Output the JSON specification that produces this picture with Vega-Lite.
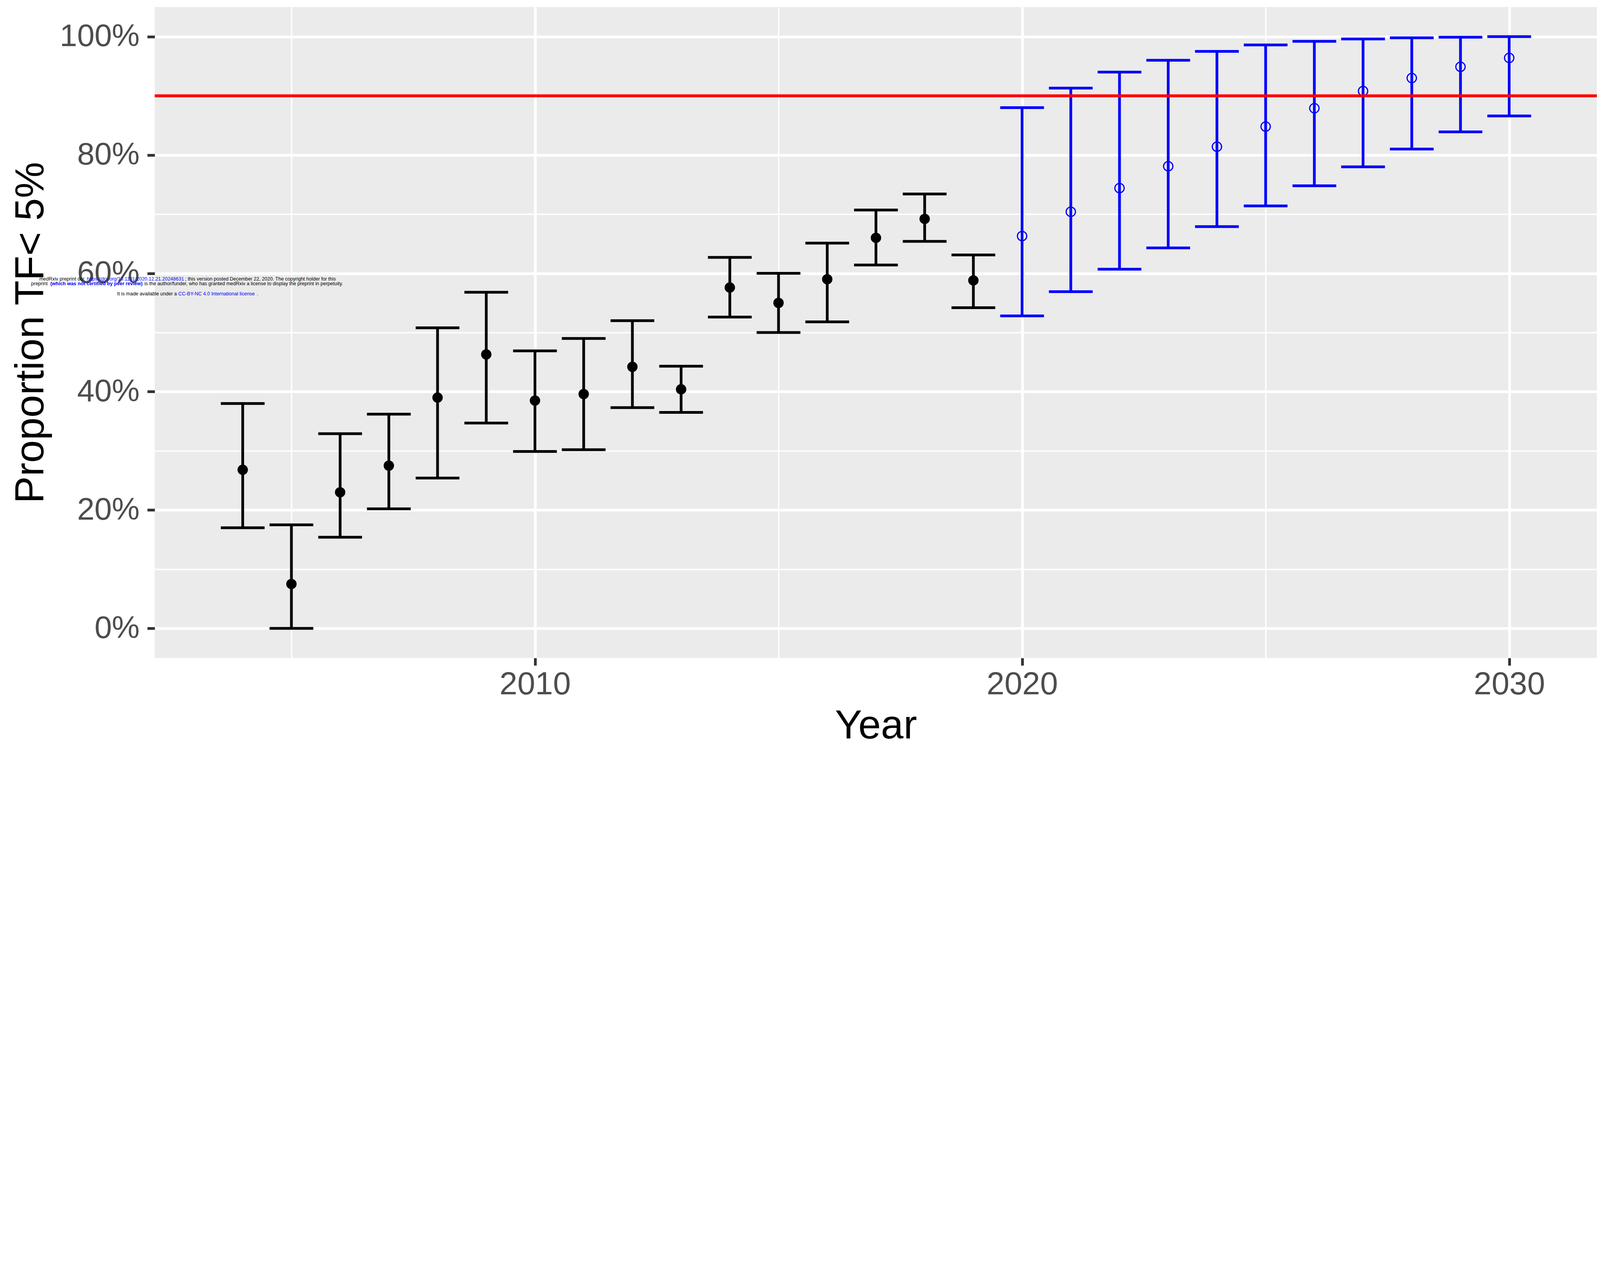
{
  "$schema": "https://vega.github.io/schema/vega-lite/v6.json",
  "width": 3692,
  "height": 1666,
  "autosize": {"type": "none"},
  "padding": {"left": 396, "top": 18, "right": 3, "bottom": 229},
  "background": "#FFFFFF",
  "config": {"view": {"fill": "#EBEBEB", "stroke": null}, "font": "Liberation Sans"},
  "datasets": {
    "est": [
      {"year": 2004, "series": "observed", "est": 26.8, "lower": 17.0, "upper": 38.0},
      {"year": 2005, "series": "observed", "est": 7.5, "lower": 0.0, "upper": 17.5},
      {"year": 2006, "series": "observed", "est": 23.0, "lower": 15.4, "upper": 32.9},
      {"year": 2007, "series": "observed", "est": 27.5, "lower": 20.2, "upper": 36.2},
      {"year": 2008, "series": "observed", "est": 39.0, "lower": 25.4, "upper": 50.8},
      {"year": 2009, "series": "observed", "est": 46.3, "lower": 34.7, "upper": 56.8},
      {"year": 2010, "series": "observed", "est": 38.5, "lower": 29.9, "upper": 46.9},
      {"year": 2011, "series": "observed", "est": 39.6, "lower": 30.2, "upper": 49.0},
      {"year": 2012, "series": "observed", "est": 44.2, "lower": 37.3, "upper": 52.0},
      {"year": 2013, "series": "observed", "est": 40.4, "lower": 36.5, "upper": 44.3},
      {"year": 2014, "series": "observed", "est": 57.6, "lower": 52.6, "upper": 62.7},
      {"year": 2015, "series": "observed", "est": 55.0, "lower": 50.0, "upper": 60.0},
      {"year": 2016, "series": "observed", "est": 59.0, "lower": 51.8, "upper": 65.1},
      {"year": 2017, "series": "observed", "est": 66.0, "lower": 61.4, "upper": 70.7},
      {"year": 2018, "series": "observed", "est": 69.2, "lower": 65.4, "upper": 73.4},
      {"year": 2019, "series": "observed", "est": 58.8, "lower": 54.2, "upper": 63.1},
      {"year": 2020, "series": "projected", "est": 66.3, "lower": 52.8, "upper": 88.0},
      {"year": 2021, "series": "projected", "est": 70.4, "lower": 56.9, "upper": 91.3},
      {"year": 2022, "series": "projected", "est": 74.4, "lower": 60.7, "upper": 94.0},
      {"year": 2023, "series": "projected", "est": 78.1, "lower": 64.3, "upper": 96.0},
      {"year": 2024, "series": "projected", "est": 81.4, "lower": 67.9, "upper": 97.5},
      {"year": 2025, "series": "projected", "est": 84.8, "lower": 71.4, "upper": 98.6},
      {"year": 2026, "series": "projected", "est": 87.9, "lower": 74.8, "upper": 99.2},
      {"year": 2027, "series": "projected", "est": 90.8, "lower": 78.0, "upper": 99.6},
      {"year": 2028, "series": "projected", "est": 93.0, "lower": 81.0, "upper": 99.8},
      {"year": 2029, "series": "projected", "est": 94.9, "lower": 83.9, "upper": 99.9},
      {"year": 2030, "series": "projected", "est": 96.4, "lower": 86.6, "upper": 100.0}
    ],
    "target": [{"level": 90}],
    "notice": [
      {"x": 1999.823, "y": 58.81, "kind": "text", "text": "medRxiv preprint doi:"},
      {"x": 2000.800, "y": 58.81, "kind": "link", "text": "https://doi.org/10.1101/2020.12.21.20248631"},
      {"x": 2002.816, "y": 58.81, "kind": "text", "text": "; this version posted December 22, 2020. The copyright holder for this"},
      {"x": 1999.655, "y": 57.99, "kind": "text", "text": "preprint"},
      {"x": 2000.049, "y": 57.99, "kind": "note", "text": "(which was not certified by peer review)"},
      {"x": 2001.981, "y": 57.99, "kind": "text", "text": "is the author/funder, who has granted medRxiv a license to display the preprint in perpetuity."},
      {"x": 2001.422, "y": 56.28, "kind": "text", "text": "It is made available under a"},
      {"x": 2002.679, "y": 56.28, "kind": "link", "text": "CC-BY-NC 4.0 International license"},
      {"x": 2004.292, "y": 56.28, "kind": "text", "text": "."}
    ]
  },
  "layer": [
    {
      "data": {"name": "est"},
      "mark": {"type": "rule", "strokeWidth": 7, "strokeCap": "butt"},
      "encoding": {
        "x": {
          "field": "year", "type": "quantitative", "title": "Year",
          "scale": {"domain": [2002.193, 2031.8], "nice": false, "zero": false},
          "axis": {
            "values": [2005, 2010, 2015, 2020, 2025, 2030],
            "format": "d",
            "labelExpr": "datum.value % 10 === 0 ? datum.label : ''",
            "labelFontSize": 82, "labelColor": "#4D4D4D", "labelPadding": 8, "labelBaseline": "top",
            "labelOverlap": false, "labelFlush": false, "labelLimit": 0,
            "tickSize": 19, "tickWidth": 7, "tickColor": "#333333",
            "tickOpacity": {"condition": {"test": "datum.value % 10 === 0", "value": 1}, "value": 0},
            "domain": false,
            "grid": true, "gridColor": "#FFFFFF",
            "gridWidth": {"condition": {"test": "datum.value % 10 === 0", "value": 7}, "value": 3.5},
            "titleFontSize": 104, "titleFontWeight": "normal", "titleColor": "#000000",
            "titleBaseline": "alphabetic", "titleY": 205, "titleLimit": 0
          }
        },
        "y": {
          "field": "lower", "type": "quantitative", "title": "Proportion TF< 5%",
          "scale": {"domain": [-5, 105], "nice": false, "zero": false},
          "axis": {
            "values": [0, 10, 20, 30, 40, 50, 60, 70, 80, 90, 100],
            "labelExpr": "datum.value % 20 === 0 ? datum.value + '%' : ''",
            "labelFontSize": 80, "labelColor": "#4D4D4D", "labelPadding": 20,
            "labelOverlap": false, "labelFlush": false, "labelLimit": 0,
            "tickSize": 19, "tickWidth": 7, "tickColor": "#333333",
            "tickOpacity": {"condition": {"test": "datum.value % 20 === 0", "value": 1}, "value": 0},
            "domain": false,
            "grid": true, "gridColor": "#FFFFFF",
            "gridWidth": {"condition": {"test": "datum.value % 20 === 0", "value": 7}, "value": 3.5},
            "titleFontSize": 104, "titleFontWeight": "normal", "titleColor": "#000000",
            "titleBaseline": "alphabetic", "titleX": -286, "titleLimit": 0
          }
        },
        "y2": {"field": "upper"},
        "color": {
          "field": "series", "type": "nominal",
          "scale": {"domain": ["observed", "projected"], "range": ["#000000", "#0000FF"]},
          "legend": null
        }
      }
    },
    {
      "data": {"name": "est"},
      "mark": {"type": "tick", "orient": "horizontal", "size": 112, "thickness": 7, "opacity": 1},
      "encoding": {
        "x": {"field": "year", "type": "quantitative", "title": "Year"},
        "y": {"field": "upper", "type": "quantitative", "title": "Proportion TF< 5%"},
        "color": {"field": "series", "type": "nominal", "legend": null}
      }
    },
    {
      "data": {"name": "est"},
      "mark": {"type": "tick", "orient": "horizontal", "size": 112, "thickness": 7, "opacity": 1},
      "encoding": {
        "x": {"field": "year", "type": "quantitative", "title": "Year"},
        "y": {"field": "lower", "type": "quantitative", "title": "Proportion TF< 5%"},
        "color": {"field": "series", "type": "nominal", "legend": null}
      }
    },
    {
      "data": {"name": "est"},
      "transform": [{"filter": "datum.series === 'observed'"}],
      "mark": {"type": "point", "shape": "circle", "filled": true, "size": 707, "opacity": 1, "strokeWidth": 0},
      "encoding": {
        "x": {"field": "year", "type": "quantitative", "title": "Year"},
        "y": {"field": "est", "type": "quantitative", "title": "Proportion TF< 5%"},
        "color": {"field": "series", "type": "nominal", "legend": null}
      }
    },
    {
      "data": {"name": "est"},
      "transform": [{"filter": "datum.series === 'projected'"}],
      "mark": {"type": "point", "shape": "circle", "filled": false, "size": 573, "opacity": 1, "strokeWidth": 3},
      "encoding": {
        "x": {"field": "year", "type": "quantitative", "title": "Year"},
        "y": {"field": "est", "type": "quantitative", "title": "Proportion TF< 5%"},
        "color": {"field": "series", "type": "nominal", "legend": null}
      }
    },
    {
      "data": {"name": "target"},
      "mark": {"type": "rule", "color": "#FF0000", "strokeWidth": 7.6},
      "encoding": {
        "y": {"field": "level", "type": "quantitative", "title": "Proportion TF< 5%"}
      }
    },
    {
      "data": {"name": "notice"},
      "transform": [{"filter": "datum.kind !== 'note'"}],
      "mark": {"type": "text", "align": "left", "baseline": "alphabetic", "fontSize": 12.5, "font": "Liberation Sans"},
      "encoding": {
        "x": {"field": "x", "type": "quantitative", "title": "Year"},
        "y": {"field": "y", "type": "quantitative", "title": "Proportion TF< 5%"},
        "text": {"field": "text"},
        "color": {"condition": {"test": "datum.kind === 'link'", "value": "#0000FF"}, "value": "#000000"}
      }
    },
    {
      "data": {"name": "notice"},
      "transform": [{"filter": "datum.kind === 'note'"}],
      "mark": {"type": "text", "align": "left", "baseline": "alphabetic", "fontSize": 12.5, "font": "Liberation Sans", "fontWeight": "bold", "color": "#0000FF"},
      "encoding": {
        "x": {"field": "x", "type": "quantitative", "title": "Year"},
        "y": {"field": "y", "type": "quantitative", "title": "Proportion TF< 5%"},
        "text": {"field": "text"}
      }
    }
  ]
}
